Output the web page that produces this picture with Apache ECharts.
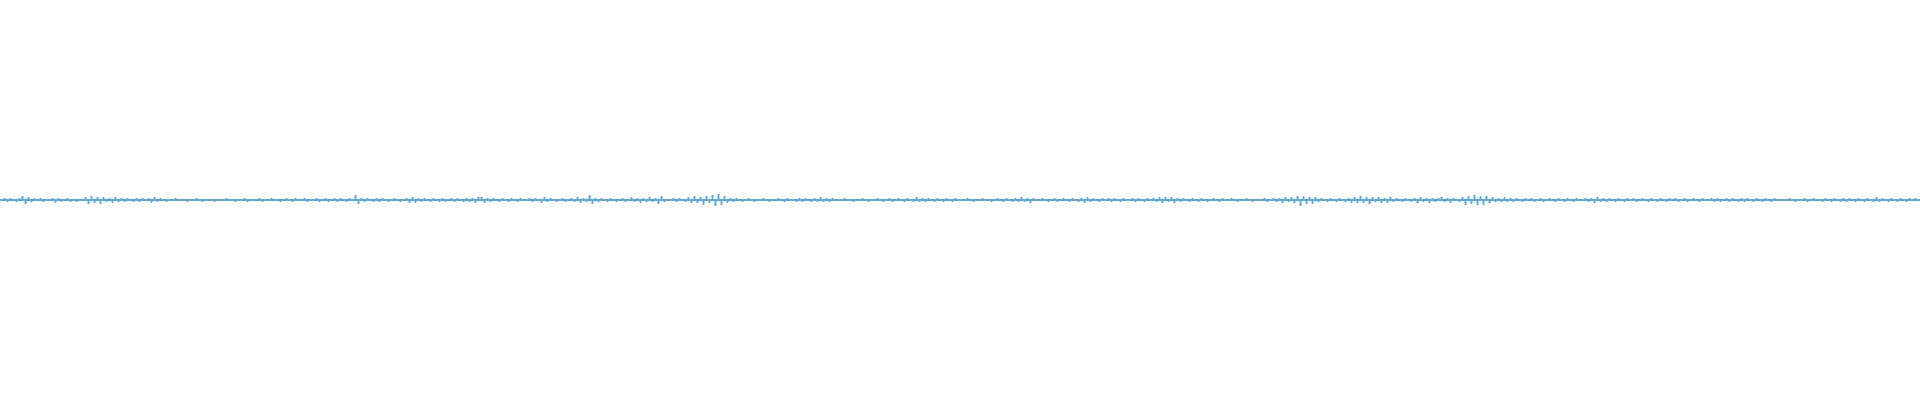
<!DOCTYPE html>
<html>
<head>
<meta charset="utf-8">
<script src="https://cdn.jsdelivr.net/npm/echarts@6/dist/echarts.min.js"></script>
<style>
html,body{margin:0;padding:0;background:#fff;}
#chart{width:1920px;height:400px;}
</style>
</head>
<body>
<div id="chart"></div>
<script>
// Waveform samples (amplitude in px), four quarters left to right
var samplesQ1 = [
 0,2,-2,2,0,-2,2,4,-4,3,
 -2,2,0,2,-2,0,0,2,-3,2,
 -2,0,2,-2,0,-2,0,0,3,-4,
 4,-3,3,-4,3,-2,2,-3,3,-2,
 2,-2,2,0,-2,2,-2,2,0,2,
 -3,3,-2,2,0,-2,0,0,2,0,
 0,0,-2,0,0,2,0,-2,0,0,
 0,-2,0,0,0,2,0,0,-2,0,
 0,2,-2,0,0,0,2,-2,0,0,
 2,0,0,-2,0,2,0,-2,2,0,
 0,2,-2,0,0,2,-2,0,2,-2,
 0,2,-2,2,0,-2,2,0,5,-4,
 2,-2,2,0,-2,2,-2,2,0,-2,
 0,2,0,-2,0,2,-3,3,-3,2,
 -2,2,0,-2,2,0,-2,2,-2,0,
 2,-2,2,0,-2,2,-2,2,-3,3
];
var samplesQ2 = [
 3,-3,2,-2,2,0,-2,2,0,-2,
 2,0,-2,2,0,0,2,-2,2,0,
 -3,3,-2,2,0,-2,0,2,-2,0,
 2,-2,3,-3,2,-2,5,-4,2,-2,
 2,0,-2,2,0,-2,0,2,-2,0,
 3,-2,2,-3,2,-2,3,-2,2,-4,
 4,-2,0,0,2,-2,2,0,-2,3,
 -3,4,-3,3,-5,4,-3,5,-6,6,
 -5,4,-3,2,-2,2,0,-2,0,2,
 0,-2,0,0,2,0,-2,0,0,2,
 0,-2,2,0,0,-2,2,-2,2,0,
 -2,2,-2,3,-2,2,-2,2,0,0,
 0,2,0,0,-2,0,0,2,0,-2,
 0,0,2,0,-2,0,2,-2,0,2,
 0,-2,2,0,-2,3,-2,2,-2,2,
 0,-2,2,0,-2,2,0,-2,2,0
];
var samplesQ3 = [
 0,0,2,0,-2,0,0,2,0,0,
 -2,0,2,0,-2,2,0,-2,2,-2,
 3,-2,2,-3,2,0,0,2,0,-2,
 0,2,-2,0,2,0,-2,2,0,-2,
 2,-3,3,-2,2,0,-2,2,0,2,
 -2,2,0,-2,2,0,0,2,-2,2,
 0,-2,2,0,2,-2,3,-3,3,-2,
 3,-3,2,-2,2,0,-2,2,0,-2,
 2,0,-2,0,2,0,-2,2,0,0,
 2,0,-2,0,0,2,0,-2,0,0,
 0,2,-2,0,2,-2,2,-3,3,-2,
 3,-3,4,-6,4,-4,3,-4,3,-2,
 2,0,-2,2,0,-2,2,0,-2,2,
 -3,3,-3,4,-3,3,-4,3,-2,3,
 -3,2,-3,3,-2,2,0,-2,2,0,
 -2,2,-3,3,-2,2,-3,2,-2,2
];
var samplesQ4 = [
 3,-2,2,-3,2,0,-2,3,-5,4,
 -4,5,-5,4,-5,4,-3,3,-2,2,
 -2,3,-2,2,-2,2,0,-2,2,0,
 2,-2,0,2,-2,0,2,0,-2,2,
 0,-2,2,0,-2,2,0,0,2,-2,
 2,-3,3,-2,2,-2,2,0,-2,2,
 0,-2,2,0,2,-2,0,2,0,-2,
 2,0,-2,2,0,-2,2,0,2,-2,
 0,2,-2,0,2,0,-2,2,0,0,
 2,-2,2,-2,0,2,-2,2,0,-2,
 2,-2,2,0,-2,2,0,-2,2,0,
 -2,2,0,0,0,0,2,0,-2,0,
 0,2,-2,0,2,0,0,-2,2,0,
 -2,2,0,-2,2,-2,2,0,-2,2,
 0,-2,2,0,-2,3,-2,2,0,-2,
 2,0,-2,2,0,-2,2,0,2,0
];
var samples = samplesQ1.concat(samplesQ2, samplesQ3, samplesQ4);
var sampleIndex = samples.map(function(_, i){ return i; });

var waveColor = '#5aaae3';
var chart = echarts.init(document.getElementById('chart'), null, {renderer:'canvas'});
chart.setOption({
  animation: false,
  backgroundColor: '#ffffff',
  grid: {left: 0, right: 0, top: 0, bottom: 0},
  xAxis: {type: 'category', data: sampleIndex, show: false},
  yAxis: {type: 'value', min: -200, max: 200, show: false},
  series: [{
    type: 'bar',
    data: samples,
    barWidth: 2,
    itemStyle: {color: waveColor},
    markLine: {
      silent: true,
      symbol: 'none',
      label: {show: false},
      lineStyle: {color: waveColor, width: 2, type: 'solid'},
      data: [{yAxis: 0}]
    }
  }]
});
</script>
</body>
</html>
